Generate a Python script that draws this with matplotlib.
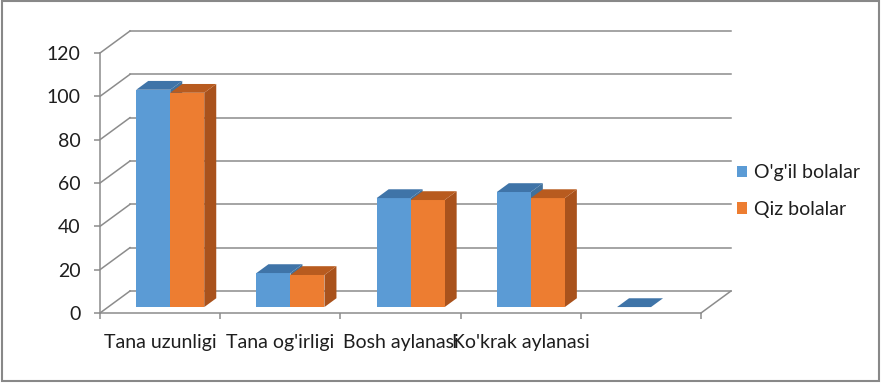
import matplotlib
matplotlib.use("Agg")
from matplotlib import pyplot as plt
from matplotlib.patches import Polygon, Patch, Rectangle

categories = ["Tana uzunligi", "Tana og'irligi", "Bosh aylanasi", "Ko'krak aylanasi", ""]
boys = [100.3, 15.7, 50.3, 53.1, 0]
girls = [98.9, 14.8, 49.4, 50.3, None]
series_names = ["O'g'il bolalar", "Qiz bolalar"]
yticks = [0, 20, 40, 60, 80, 100, 120]

plt.rcParams['font.family'] = ['Lato', 'DejaVu Sans']

W, H = 881, 383
fig = plt.figure(figsize=(W / 100, H / 100), dpi=100)
ax = fig.add_axes([100 / W, 70 / H, 601 / W, 260 / H])
ax.set_xlim(0, 5)
ax.set_ylim(0, 120)

grey = '#8c8c8c'
# depth of the box (oblique projection) in data units
DX = 30 / 120.2
DY = 22 / (260 / 120)

def pt(x, y, z):
    return (x + z * DX, y + z * DY)

# back wall gridlines and side wall lines
for v in yticks:
    ax.plot([DX, 5 + DX], [v + DY, v + DY], color=grey, lw=1.1, clip_on=False, zorder=1)
    ax.plot([0, DX], [v, v + DY], color=grey, lw=1.1, clip_on=False, zorder=1)
ax.plot([5, 5 + DX], [0, DY], color=grey, lw=1.1, clip_on=False, zorder=1)

# bars
z0, z1 = 0.27, 0.67
bw = 34 / 120.2
styles = [
    dict(front='#5b9bd5', top='#3f74a8', side='#41719c'),
    dict(front='#ed7d31', top='#b85b1f', side='#a9521c'),
]

def bar3d(x0, x1, v, st):
    front = [pt(x0, 0, z0), pt(x1, 0, z0), pt(x1, v, z0), pt(x0, v, z0)]
    top = [pt(x0, v, z0), pt(x1, v, z0), pt(x1, v, z1), pt(x0, v, z1)]
    side = [pt(x1, 0, z0), pt(x1, 0, z1), pt(x1, v, z1), pt(x1, v, z0)]
    if v > 0:
        ax.add_patch(Polygon(side, closed=True, fc=st['side'], ec='none', clip_on=False, zorder=2))
        ax.add_patch(Polygon(front, closed=True, fc=st['front'], ec='none', clip_on=False, zorder=2))
    ax.add_patch(Polygon(top, closed=True, fc=st['top'], ec='none', clip_on=False, zorder=2))

for i in range(len(categories)):
    c = i + 0.5 + 0.017
    if boys[i] is not None:
        bar3d(c - bw, c, boys[i], styles[0])
    if girls[i] is not None:
        bar3d(c, c + bw, girls[i], styles[1])

for s in ['top', 'right']:
    ax.spines[s].set_visible(False)
for s in ['left', 'bottom']:
    ax.spines[s].set_color(grey)
    ax.spines[s].set_linewidth(1.1)

ax.set_yticks(yticks)
ax.set_yticklabels([str(v) for v in yticks], fontsize=14, color='#1e1e1e')
ax.set_xticks(range(6))
ax.set_xticklabels([])
ax.set_xticks([i + 0.5 for i in range(5)], minor=True)
ax.set_xticklabels(categories, minor=True, fontsize=14, color='#1e1e1e')
ax.tick_params(axis='y', length=4, color=grey, width=1.1, pad=10)
ax.tick_params(axis='x', which='major', length=4, color=grey, width=1.1)
ax.tick_params(axis='x', which='minor', length=0, pad=15)

handles = [Patch(fc=styles[0]['front']), Patch(fc=styles[1]['front'])]
fig.legend(handles, series_names, loc='center left', bbox_to_anchor=(719 / W, 1 - 191 / H),
           frameon=False, fontsize=14, handlelength=0.55, handleheight=0.55,
           handletextpad=0.35, labelspacing=1.0, labelcolor='#1e1e1e')

fig.add_artist(Rectangle((2 / W, 2 / H), 877 / W, 380 / H, transform=fig.transFigure,
                         fill=False, ec='#888888', lw=1.5))

fig.savefig('out.png', dpi=100)
